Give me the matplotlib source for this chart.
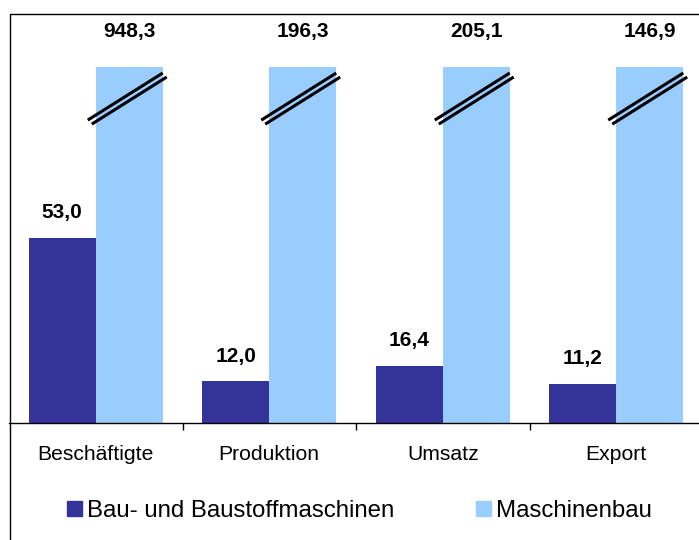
import matplotlib
matplotlib.use('Agg')
import matplotlib.pyplot as plt
from matplotlib.patches import Patch
from matplotlib.lines import Line2D
import numpy as np

plt.rcParams['font.family'] = ['Liberation Sans', 'DejaVu Sans']

categories = ['Beschäftigte', 'Produktion', 'Umsatz', 'Export']
bau = [53.0, 12.0, 16.4, 11.2]
maschinenbau = [948.3, 196.3, 205.1, 146.9]
series_names = ['Bau- und Baustoffmaschinen', 'Maschinenbau']

dark = '#333399'
light = '#99ccff'

# light bars are cut at this height (axis break)
cap = 102.0
ymax = 117.5

fig = plt.figure(figsize=(6.99, 5.40), dpi=100)
ax = fig.add_axes([9 / 699, 1 - 423 / 540, 694 / 699, 410 / 540])

x = np.arange(len(categories))
w = 0.386
shown = [min(v, cap) for v in maschinenbau]
ax.bar(x - w / 2, bau, w, color=dark, label=series_names[0])
ax.bar(x + w / 2, shown, w, color=light, label=series_names[1])

def fmt(v):
    return f'{v:.1f}'.replace('.', ',')

for xi, v in zip(x, bau):
    ax.text(xi - w / 2, v + 7.2, fmt(v), ha='center', va='center',
            fontsize=15, fontweight='bold')
for xi, v in zip(x, maschinenbau):
    ax.text(xi + w / 2, 112.3, fmt(v), ha='center', va='center',
            fontsize=15, fontweight='bold')

# break marks on the cut bars
for xi in x:
    x0 = xi - 0.046
    x1 = xi + w
    for dx, dy in [(0, 0), (0.023, -1.15)]:
        ax.plot([x0 + dx, x1 + dx], [86.8 + dy, 100.3 + dy], color='black',
                lw=2.2, solid_capstyle='butt', clip_on=False)

ax.set_xlim(-0.5, len(categories) - 0.5)
ax.set_ylim(0, ymax)
ax.set_yticks([])
ax.set_xticks(x)
ax.set_xticklabels(categories, fontsize=15.2)
ax.set_xticks(np.arange(1, len(categories)) - 0.5, minor=True)
ax.tick_params(axis='x', which='major', length=0, pad=16)
ax.tick_params(axis='x', which='minor', length=5, width=1, direction='out')
for s in ['top', 'right', 'left']:
    ax.spines[s].set_visible(False)
ax.spines['bottom'].set_linewidth(1)
ax.patch.set_alpha(0)

# outer frame (left and top edges visible)
fx = 9.5 / 699
fy = 1 - 13.5 / 540
fig.add_artist(Line2D([fx, fx, 1.01], [-0.01, fy, fy], color='black', lw=1,
                      transform=fig.transFigure))

handles = [Patch(color=dark), Patch(color=light)]
fig.legend(handles, series_names, loc='center', bbox_to_anchor=(0.514, 0.0537),
           ncol=2, frameon=False, fontsize=17.3, handlelength=0.62,
           handleheight=0.62, handletextpad=0.2, columnspacing=3.4)

fig.savefig('out.png', dpi=100)
